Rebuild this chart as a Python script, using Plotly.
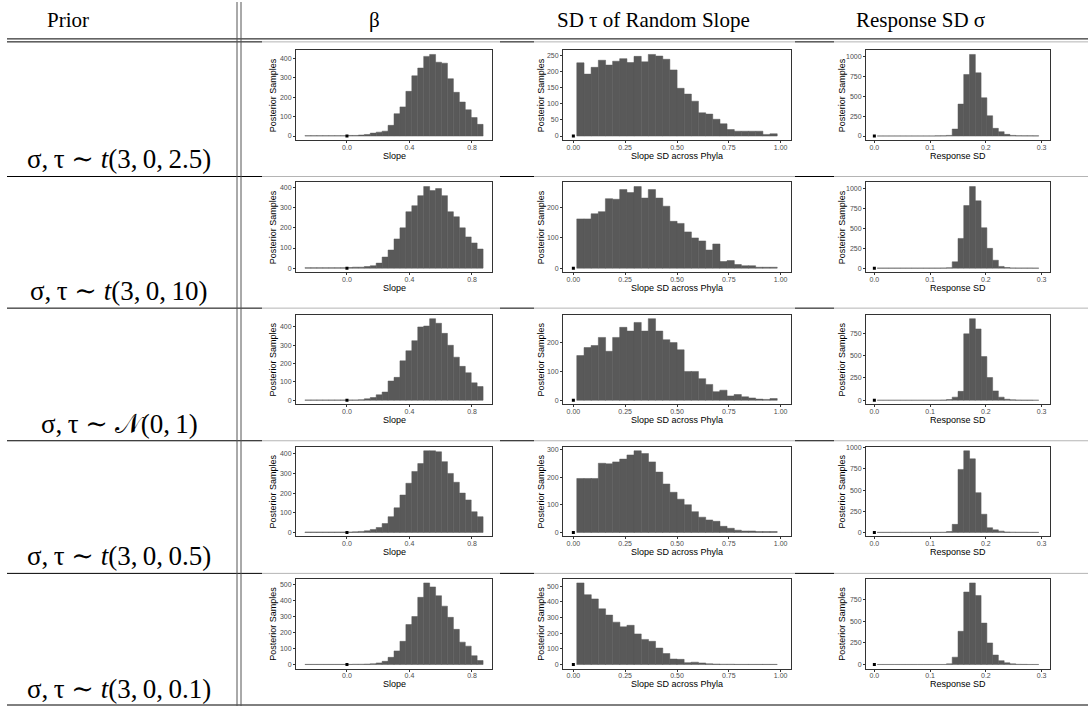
import plotly.graph_objects as go

W, H = 1088, 706

# ---------------- text ----------------
header_labels = ["Prior", "β", "SD τ of Random Slope", "Response SD σ"]
prior_labels = [
    "σ,\u2009τ ∼ <i>t</i>(3,\u20090,\u20092.5)",
    "σ,\u2009τ ∼ <i>t</i>(3,\u20090,\u200910)",
    "σ,\u2009τ ∼ 𝒩(0,\u20091)",
    "σ,\u2009τ ∼ <i>t</i>(3,\u20090,\u20090.5)",
    "σ,\u2009τ ∼ <i>t</i>(3,\u20090,\u20090.1)",
]
x_titles = ["Slope", "Slope SD across Phyla", "Response SD"]
y_title = "Posterior Samples"

# ---------------- data ----------------
slope_bins = [-0.250, -0.212, -0.174, -0.136, -0.098, -0.060, -0.022, 0.016, 0.054, 0.092,
              0.130, 0.168, 0.206, 0.244, 0.282, 0.320, 0.358, 0.396, 0.434, 0.472,
              0.510, 0.548, 0.586, 0.624, 0.662, 0.700, 0.738, 0.776, 0.814, 0.852]
sd_bins = [0.034, 0.069, 0.103, 0.138, 0.172, 0.207, 0.241, 0.276, 0.310, 0.345,
           0.379, 0.414, 0.448, 0.483, 0.517, 0.552, 0.586, 0.621, 0.655, 0.690,
           0.724, 0.759, 0.793, 0.828, 0.862, 0.897, 0.931, 0.966]
resp_bins = [0.0103, 0.0207, 0.0310, 0.0414, 0.0517, 0.0621, 0.0724, 0.0828, 0.0931, 0.1034,
             0.1138, 0.1241, 0.1345, 0.1448, 0.1552, 0.1655, 0.1759, 0.1862, 0.1966, 0.2069,
             0.2172, 0.2276, 0.2379, 0.2483, 0.2586, 0.2690, 0.2793, 0.2897]

slope_counts = [
    [2, 2, 2, 2, 2, 2, 2, 3, 3, 5, 8, 15, 20, 25, 55, 115, 150, 230, 310, 350, 410, 420, 380, 375, 295, 225, 175, 135, 95, 60],
    [2, 2, 2, 2, 2, 2, 2, 3, 5, 5, 8, 12, 25, 55, 90, 145, 200, 280, 310, 360, 405, 385, 395, 360, 280, 255, 200, 155, 125, 95],
    [2, 2, 2, 2, 2, 2, 2, 2, 2, 3, 8, 15, 30, 45, 105, 125, 215, 270, 325, 400, 405, 445, 420, 365, 300, 235, 185, 150, 95, 75],
    [2, 2, 2, 2, 2, 2, 2, 2, 3, 5, 8, 15, 25, 45, 80, 125, 190, 250, 310, 350, 415, 415, 410, 360, 300, 255, 200, 165, 105, 80],
    [1, 1, 1, 1, 1, 1, 1, 1, 2, 2, 3, 5, 10, 20, 45, 85, 145, 250, 300, 420, 510, 485, 430, 365, 295, 220, 140, 115, 55, 25],
]
sd_counts = [
    [227, 192, 213, 235, 220, 232, 240, 228, 247, 230, 253, 248, 238, 205, 148, 130, 108, 72, 68, 52, 38, 20, 15, 15, 15, 15, 5, 7],
    [163, 163, 180, 187, 230, 228, 260, 250, 270, 232, 260, 232, 205, 155, 148, 120, 100, 90, 60, 80, 22, 25, 12, 8, 8, 3, 3, 3],
    [155, 183, 190, 218, 170, 218, 253, 240, 270, 240, 283, 240, 210, 200, 175, 100, 100, 75, 55, 30, 35, 15, 20, 12, 8, 4, 3, 6],
    [195, 195, 195, 250, 248, 255, 265, 280, 295, 285, 255, 218, 175, 145, 120, 100, 75, 55, 45, 40, 22, 15, 8, 5, 5, 3, 3, 3],
    [520, 445, 418, 355, 315, 270, 240, 250, 195, 160, 148, 105, 70, 35, 33, 12, 15, 10, 5, 3, 2, 2, 1, 1, 1, 1, 1, 1],
]
resp_counts = [
    [1, 1, 1, 1, 1, 1, 1, 1, 1, 1, 2, 3, 8, 88, 403, 777, 1030, 798, 483, 256, 97, 55, 21, 8, 4, 3, 3, 2],
    [1, 1, 1, 1, 1, 1, 1, 1, 1, 1, 1, 2, 5, 80, 375, 790, 1030, 850, 510, 250, 100, 22, 8, 3, 2, 2, 2, 1],
    [1, 1, 1, 1, 1, 1, 1, 1, 1, 1, 1, 3, 8, 35, 100, 745, 915, 800, 490, 255, 105, 35, 12, 5, 3, 2, 2, 1],
    [1, 1, 1, 1, 1, 1, 1, 1, 1, 1, 1, 2, 10, 95, 745, 965, 870, 470, 215, 55, 30, 15, 5, 3, 2, 2, 1, 1],
    [1, 1, 1, 1, 1, 1, 1, 1, 1, 1, 1, 1, 8, 85, 385, 840, 945, 800, 480, 250, 110, 45, 20, 8, 3, 2, 1, 1],
]

slope_ticks = [0.0, 0.4, 0.8]
slope_ticktext = ["0.0", "0.4", "0.8"]
sd_ticks = [0.0, 0.25, 0.5, 0.75, 1.0]
sd_ticktext = ["0.00", "0.25", "0.50", "0.75", "1.00"]
resp_ticks = [0.0, 0.1, 0.2, 0.3]
resp_ticktext = ["0.0", "0.1", "0.2", "0.3"]

slope_range = [-0.326, 0.928]
sd_range = [-0.05, 1.05]
resp_range = [-0.015, 0.315]

y_dticks = [[100, 50, 250], [100, 100, 250], [100, 100, 250], [100, 100, 250], [100, 100, 250]]

# ---------------- geometry / style ----------------
SANS = "Liberation Sans, Arial, sans-serif"
SERIF = "Liberation Serif, Times New Roman, DejaVu Serif, serif"
BAR = "#595959"
col_box = [(296, 492), (563, 791), (866, 1050)]
ytitle_x = [273, 541, 842]
box_bottom = [138.5 + 132.5 * i for i in range(5)]
box_h = 90
row_sep = [175, 307, 440, 573]
covered = [(262, 500), (534, 795), (834, 1088)]
uncovered = [(7, 262), (500, 534), (795, 834)]

cols = [
    (slope_bins, slope_counts, slope_range, slope_ticks, slope_ticktext),
    (sd_bins, sd_counts, sd_range, sd_ticks, sd_ticktext),
    (resp_bins, resp_counts, resp_range, resp_ticks, resp_ticktext),
]

fig = go.Figure()
layout = {}
annotations = []
shapes = []


def px_x(v):
    return v / W


def px_y(v):
    return 1 - v / H


for i in range(5):
    for j in range(3):
        n = i * 3 + j + 1
        bins, counts, rng, tv, tt = cols[j]
        cnt = counts[i]
        xs = "x" if n == 1 else f"x{n}"
        ys = "y" if n == 1 else f"y{n}"
        bw = bins[1] - bins[0]
        fig.add_trace(go.Bar(x=bins, y=cnt, width=bw, xaxis=xs, yaxis=ys,
                             marker=dict(color=BAR, line=dict(color=BAR, width=0.5)),
                             hoverinfo="x+y"))
        fig.add_trace(go.Scatter(x=[0], y=[0], xaxis=xs, yaxis=ys, mode="markers",
                                 marker=dict(symbol="square", size=3, color="black"),
                                 hoverinfo="skip"))
        x0, x1 = col_box[j]
        b = box_bottom[i]
        t = b - box_h
        ymax = max(cnt)
        common = dict(showline=True, mirror=True, linecolor="#333333", linewidth=1,
                      ticks="outside", ticklen=2, tickwidth=1, tickcolor="#333333",
                      showgrid=False, zeroline=False,
                      tickfont=dict(family=SANS, size=7, color="#4d4d4d"))
        layout["xaxis" if n == 1 else f"xaxis{n}"] = dict(
            domain=[px_x(x0), px_x(x1)], anchor=ys, range=rng,
            tickmode="array", tickvals=tv, ticktext=tt, ticklabelstandoff=-2, **common)
        layout["yaxis" if n == 1 else f"yaxis{n}"] = dict(
            domain=[px_y(b), px_y(t)], anchor=xs,
            range=[-0.05 * ymax, 1.05 * ymax],
            tick0=0, dtick=y_dticks[i][j], **common)
        annotations.append(dict(xref="paper", yref="paper", x=px_x((x0 + x1) / 2), y=px_y(b + 15.5),
                                text=x_titles[j], showarrow=False, xanchor="center", yanchor="middle",
                                font=dict(family=SANS, size=9, color="black")))
        annotations.append(dict(xref="paper", yref="paper", x=px_x(ytitle_x[j]), y=px_y(b - box_h / 2),
                                text=y_title, showarrow=False, textangle=-90,
                                xanchor="center", yanchor="middle",
                                font=dict(family=SANS, size=9, color="black")))

# header texts
header_x = [68, 374, 653, 920]
for lbl, hx in zip(header_labels, header_x):
    annotations.append(dict(xref="paper", yref="paper", x=px_x(hx), y=px_y(18), text=lbl,
                            showarrow=False, xanchor="center", yanchor="middle",
                            font=dict(family=SERIF, size=21, color="black")))

# prior labels
prior_y = [157, 290, 423, 556, 689]
for lbl, py in zip(prior_labels, prior_y):
    annotations.append(dict(xref="paper", yref="paper", x=px_x(119), y=px_y(py), text=lbl,
                            showarrow=False, xanchor="center", yanchor="middle",
                            font=dict(family=SERIF, size=27, color="black")))


def hline(y, xa, xb, color, w=1):
    shapes.append(dict(type="line", xref="paper", yref="paper", x0=px_x(xa), x1=px_x(xb),
                       y0=px_y(y), y1=px_y(y), line=dict(color=color, width=w), layer="below"))


# table rules
hline(37, 7, W, "black")
for y in [40] + row_sep:
    for a, bb in uncovered:
        hline(y, a, bb, "black")
    for a, bb in covered:
        hline(y, a, bb, "#b4b4b4")
hline(705, 7, W, "black")
for vx in (237, 241):
    shapes.append(dict(type="line", xref="paper", yref="paper", x0=px_x(vx), x1=px_x(vx),
                       y0=0, y1=1, line=dict(color="#555555", width=1), layer="below"))

fig.update_layout(width=W, height=H, margin=dict(l=0, r=0, t=0, b=0),
                  paper_bgcolor="white", plot_bgcolor="white", showlegend=False,
                  bargap=0, barmode="overlay", annotations=annotations, shapes=shapes,
                  hovermode=False, **layout)

fig.write_html("out.html", config={"displayModeBar": False, "staticPlot": True},
               post_script="document.body.style.margin='0px';document.body.style.overflow='hidden';")
